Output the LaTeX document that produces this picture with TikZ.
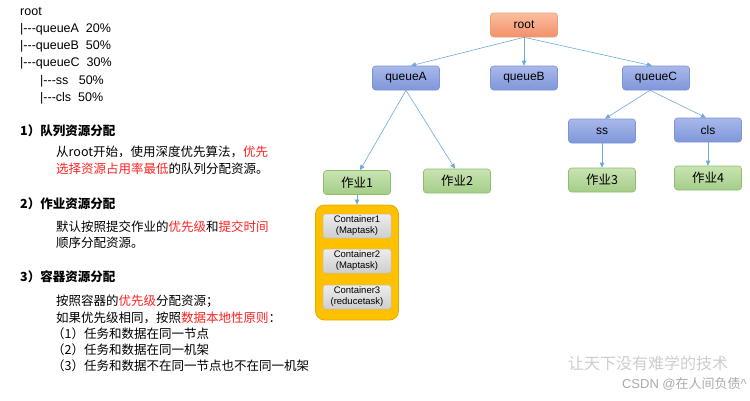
\documentclass[tikz,border=0pt]{standalone}
\usepackage{fontspec}
\setmainfont{Liberation Sans}
\newfontfamily\cjk{Noto Sans CJK SC}
\usetikzlibrary{arrows.meta}
\definecolor{arrowblue}{HTML}{6FA8DC}
\definecolor{hlred}{HTML}{FF2020}
\definecolor{orDraw}{RGB}{233,160,122}
\definecolor{orTop}{RGB}{250,190,158}
\definecolor{orBot}{RGB}{243,144,106}
\definecolor{blDraw}{RGB}{124,147,214}
\definecolor{blTop}{RGB}{168,184,234}
\definecolor{blBot}{RGB}{126,151,218}
\definecolor{grDraw}{RGB}{140,190,110}
\definecolor{grTop}{RGB}{200,228,178}
\definecolor{grBot}{RGB}{164,205,136}
\definecolor{gyDraw}{RGB}{190,190,190}
\definecolor{gyTop}{RGB}{236,236,236}
\definecolor{gyBot}{RGB}{206,206,206}
\definecolor{ylDraw}{RGB}{225,170,0}
\definecolor{ylFill}{RGB}{255,192,0}
\definecolor{wmgray}{RGB}{170,170,170}
\definecolor{wmlight}{RGB}{205,205,205}
\tikzset{
  box/.style={rounded corners=3pt, minimum width=67pt, minimum height=24pt, inner sep=0pt, font=\fontsize{12}{14}\selectfont, line width=0.6pt},
  orangebox/.style={box, draw=orDraw, top color=orTop, bottom color=orBot},
  bluebox/.style={box, draw=blDraw, top color=blTop, bottom color=blBot},
  greenbox/.style={box, draw=grDraw, top color=grTop, bottom color=grBot, font=\cjk\fontsize{12.5}{14}\selectfont},
  graybox/.style={rounded corners=2.5pt, minimum width=68pt, minimum height=24pt, inner sep=0pt, align=center, draw=gyDraw, top color=gyTop, bottom color=gyBot, font=\fontsize{9.5}{11}\selectfont, line width=0.5pt},
  yellowbox/.style={rounded corners=9pt, draw=ylDraw, fill=ylFill, line width=0.8pt},
  conn/.style={draw=arrowblue, line width=0.6pt, -{Triangle[length=5pt,width=4.5pt]}},
  treetxt/.style={anchor=west, inner sep=0pt, font=\fontsize{12.5}{14}\selectfont},
  head/.style={anchor=west, inner sep=0pt, font=\cjk\bfseries\fontsize{12.5}{14}\selectfont},
  body/.style={anchor=west, inner sep=0pt, font=\cjk\fontsize{12.5}{14}\selectfont},
  wm/.style={inner sep=0pt, text=wmgray},
}
\newcommand{\hl}[1]{\textcolor{hlred}{#1}}
\newcommand{\dsh}{{-}{-}{-}}
\begin{document}
\begin{tikzpicture}[x=1pt,y=-1pt]
\useasboundingbox (0,0) rectangle (750,400);
% left tree text
\node[treetxt] (t0) at (20,12) {root};
\node[treetxt] (t1) at (20,29) {|\dsh queueA\ \ 20\%};
\node[treetxt] (t2) at (20,46) {|\dsh queueB\ \ 50\%};
\node[treetxt] (t3) at (20,63) {|\dsh queueC\ \ 30\%};
\node[treetxt] (t4) at (40,81) {|\dsh ss\ \ \ 50\%};
\node[treetxt] (t5) at (40,98) {|\dsh cls\ \ 50\%};
% section 1
\node[head] (h1) at (20,131) {1）队列资源分配};
\node[body] (b11) at (56,152) {从root开始，使用深度优先算法，\hl{优先}};
\node[body] (b12) at (56,169) {\hl{选择资源占用率最低}的队列分配资源。};
% section 2
\node[head] (h2) at (20,204) {2）作业资源分配};
\node[body] (b21) at (56,227) {默认按照提交作业的\hl{优先级}和\hl{提交时间}};
\node[body] (b22) at (56,243) {顺序分配资源。};
% section 3
\node[head] (h3) at (20,277) {3）容器资源分配};
\node[body] (b31) at (56,301) {按照容器的\hl{优先级}分配资源；};
\node[body] (b32) at (56,318) {如果优先级相同，按照\hl{数据本地性原则}：};
\node[body] (b33) at (52,334) {（1）任务和数据在同一节点};
\node[body] (b34) at (52,350) {（2）任务和数据在同一机架};
\node[body] (b35) at (52,366) {（3）任务和数据不在同一节点也不在同一机架};
% tree diagram
\node[orangebox] (root) at (524,25) {root};
\node[bluebox] (qA) at (406,78) {queueA};
\node[bluebox] (qB) at (524,78) {queueB};
\node[bluebox] (qC) at (656,78) {queueC};
\node[bluebox] (ss) at (602,131) {ss};
\node[bluebox] (cls) at (708,130) {cls};
\node[greenbox] (j1) at (357,182.5) {作业1};
\node[greenbox] (j2) at (457,181) {作业2};
\node[greenbox] (j3) at (602,180) {作业3};
\node[greenbox] (j4) at (708,178) {作业4};
\node[yellowbox, minimum width=83pt, minimum height=115pt] (yb) at (357,262.5) {};
\node[graybox] (c1) at (357,226) {Container1\\(Maptask)};
\node[graybox] (c2) at (357,261) {Container2\\(Maptask)};
\node[graybox] (c3) at (357,297) {Container3\\(reducetask)};
% connectors
\draw[conn] (root.south) -- ([xshift=5pt]qA.north);
\draw[conn] (root.south) -- (qB.north);
\draw[conn] (root.south) -- ([xshift=-4pt]qC.north);
\draw[conn] (qA.south) -- ([xshift=3pt]j1.north);
\draw[conn] (qA.south) -- ([xshift=-2pt]j2.north);
\draw[conn] ([xshift=-6pt]qC.south) -- ([xshift=3pt]ss.north);
\draw[conn] ([xshift=-6pt]qC.south) -- ([xshift=-2pt]cls.north);
\draw[conn] (ss.south) -- (j3.north);
\draw[conn] (cls.south) -- (j4.north);
\draw[conn] (j1.south) -- (yb.north);
% watermark
\node[wm, text=wmlight, font=\cjk\fontsize{16}{18}\selectfont] (w1) at (648,363) {让天下没有难学的技术};
\node[wm, font=\fontsize{13}{15}\selectfont, anchor=east] (w2) at (747,384) {CSDN @{\cjk 在人间负债}\^{}};
\end{tikzpicture}
\end{document}
